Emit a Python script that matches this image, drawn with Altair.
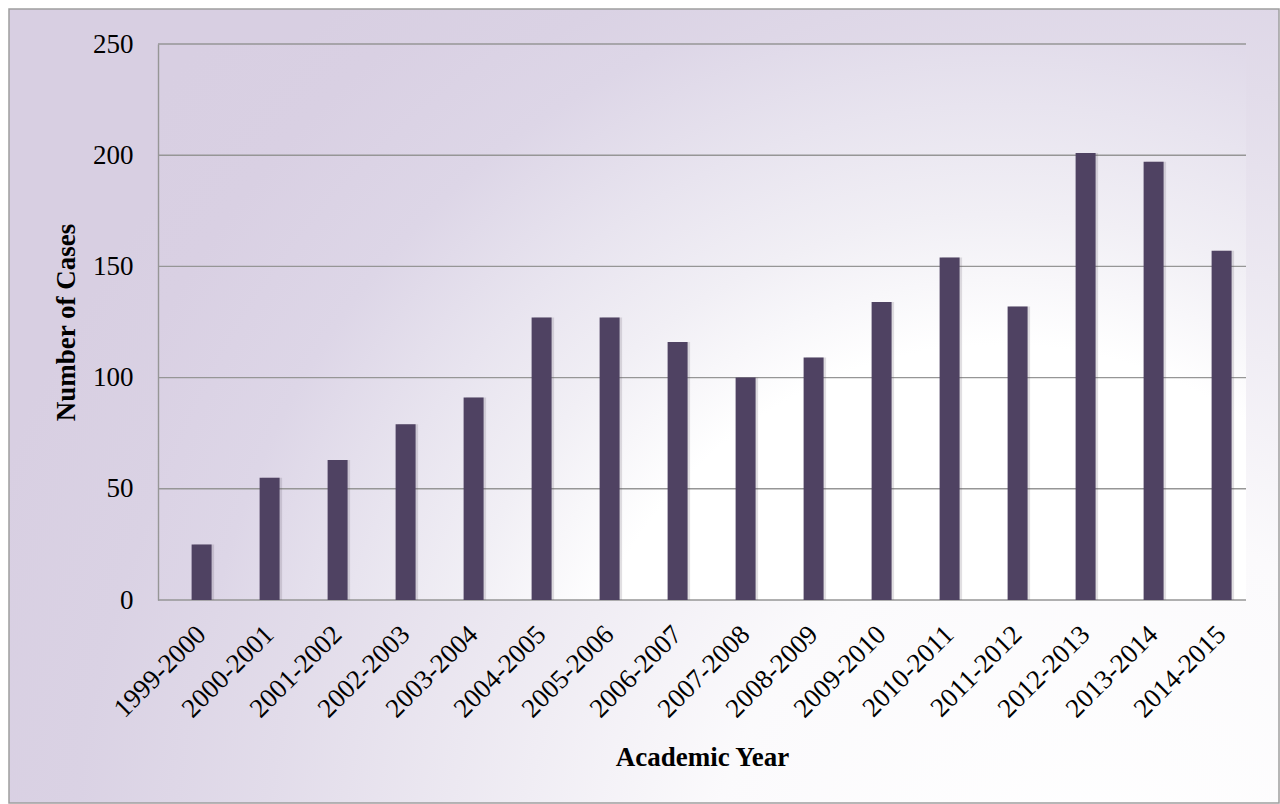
import altair as alt
import pandas as pd

# ---- data ----
years = ["1999-2000", "2000-2001", "2001-2002", "2002-2003", "2003-2004",
         "2004-2005", "2005-2006", "2006-2007", "2007-2008", "2008-2009",
         "2009-2010", "2010-2011", "2011-2012", "2012-2013", "2013-2014",
         "2014-2015"]
cases = [25, 55, 63, 79, 91, 127, 127, 116, 100, 109, 134, 154, 132, 201, 197, 157]
grid_values = [0, 50, 100, 150, 200, 250]

W, H = 1088, 556
SERIF = "Liberation Serif"
GRID = "#969696"
BAR = "#4f4262"

df = pd.DataFrame({"year": years, "cases": cases})
grid_df = pd.DataFrame({"cases": grid_values})
one = pd.DataFrame({"k": [0]})

# radial gradients (Vega maps a unit square "slice"-fitted onto the rect)
chart_fill = {
    "gradient": "radial", "x1": 0.85, "y1": 0.889, "r1": 0,
    "x2": 0.85, "y2": 0.889, "r2": 1.0,
    "stops": [
        {"offset": 0.0, "color": "#ffffff"},
        {"offset": 0.3, "color": "#fbfafc"},
        {"offset": 0.45, "color": "#f0edf4"},
        {"offset": 0.65, "color": "#e2dcea"},
        {"offset": 0.8, "color": "#dad2e4"},
        {"offset": 0.92, "color": "#d8cfe2"},
        {"offset": 1.0, "color": "#d8cfe2"},
    ],
}
plot_fill = {
    "gradient": "radial", "x1": 0.774, "y1": 0.921, "r1": 0,
    "x2": 0.774, "y2": 0.921, "r2": 1.0,
    "stops": [
        {"offset": 0.0, "color": "#ffffff"},
        {"offset": 0.40, "color": "#ffffff"},
        {"offset": 0.52, "color": "#f1eff5"},
        {"offset": 0.62, "color": "#e8e4ef"},
        {"offset": 0.74, "color": "#ddd6e7"},
        {"offset": 0.88, "color": "#d9d0e3"},
        {"offset": 1.0, "color": "#d8cfe2"},
    ],
}

x_scale = alt.Scale(domain=years, paddingInner=0.706, paddingOuter=0.353, align=0.7)
y_scale = alt.Scale(domain=[0, 250])

x_axis = alt.Axis(
    title="Academic Year", labelAngle=-45, labelAlign="right", labelBaseline="middle",
    labelFont=SERIF, labelFontSize=27, labelColor="black", labelPadding=30,
    labelOverlap=False, ticks=False, domain=False, grid=False,
    titleFont=SERIF, titleFontSize=27, titleFontWeight="bold", titleColor="black",
    titleY=157, titleBaseline="middle", zindex=1,
)
y_axis = alt.Axis(
    title="Number of Cases", values=grid_values, ticks=False, grid=False,
    domain=True, domainColor=GRID, domainWidth=1.4,
    labelFont=SERIF, labelFontSize=27, labelColor="black", labelPadding=25,
    titleFont=SERIF, titleFontSize=27, titleFontWeight="bold", titleColor="black",
    titleX=-92, titleY=H / 2, titleAngle=270, titleAlign="center",
    titleBaseline="middle", zindex=1,
)

chart_bg = alt.Chart(one).mark_rect(fill=chart_fill, stroke="#9e9e9e", strokeWidth=1.5).encode(
    x=alt.value(-149), x2=alt.value(W + 33), y=alt.value(-35), y2=alt.value(H + 203)
)
plot_bg = alt.Chart(one).mark_rect(fill=plot_fill).encode(
    x=alt.value(0), x2=alt.value(W), y=alt.value(0), y2=alt.value(H)
)
grid = alt.Chart(grid_df).mark_rule(color=GRID, strokeWidth=1.4).encode(
    y=alt.Y("cases:Q", scale=y_scale, axis=y_axis)
)
shadow = alt.Chart(df).mark_bar(color="#5a5060", opacity=0.18, xOffset=2.5).encode(
    x=alt.X("year:N", sort=years, scale=x_scale, axis=x_axis),
    y=alt.Y("cases:Q", scale=y_scale, axis=y_axis),
)
bars = alt.Chart(df).mark_bar(color=BAR).encode(
    x=alt.X("year:N", sort=years, scale=x_scale, axis=x_axis),
    y=alt.Y("cases:Q", scale=y_scale, axis=y_axis),
)

chart = alt.layer(chart_bg, plot_bg, grid, shadow, bars).properties(
    width=W, height=H,
    autosize=alt.AutoSizeParams(type="none"),
    padding={"left": 158, "top": 44, "right": 34, "bottom": 204},
    background="white",
).configure_view(stroke=None)

chart.save("out.html", embed_options={"renderer": "svg", "actions": False})
